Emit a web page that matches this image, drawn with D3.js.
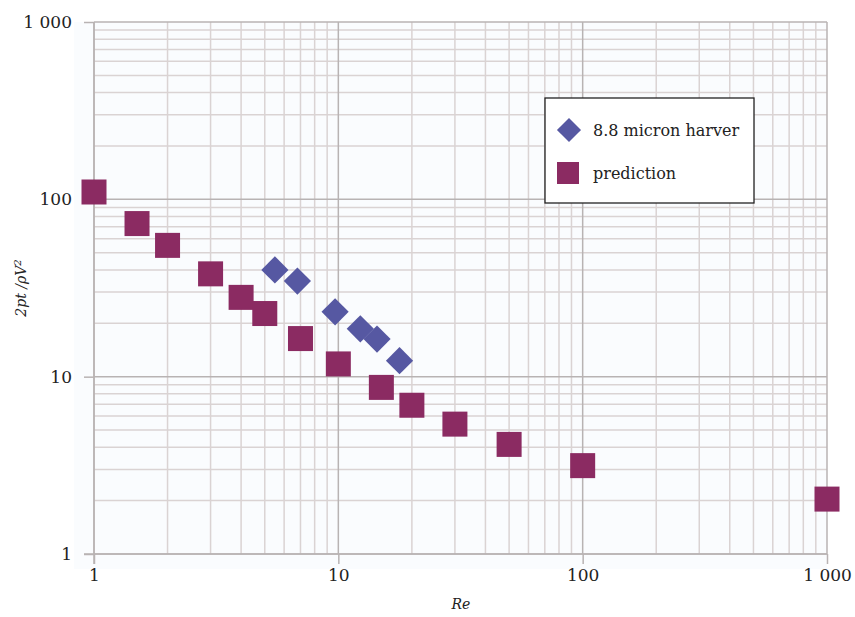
<!DOCTYPE html>
<html>
<head>
<meta charset="utf-8">
<script src="https://cdn.jsdelivr.net/npm/d3@7"></script>
<style>
  body { margin: 0; background: #fff; }
  text { font-family: "DejaVu Serif", "Liberation Serif", serif; fill: #222; }
</style>
</head>
<body>
<div id="chart"></div>
<script>
// data
const harverRe = [5.5, 6.8, 9.7, 12.3, 14.4, 17.8];
const harverVal = [40, 34.6, 23.2, 18.6, 16.3, 12.3];
const predRe = [1, 1.5, 2, 3, 4, 5, 7, 10, 15, 20, 30, 50, 100, 1000];
const predVal = [110, 73, 55, 38, 28, 22.7, 16.4, 11.8, 8.7, 6.9, 5.4, 4.15, 3.15, 2.04];
const majorTicks = [1, 10, 100, 1000];
const tickLabels = ['1', '10', '100', '1 000'];
const seriesNames = ['8.8 micron harver', 'prediction'];

const width = 855, height = 617;
const pLeft = 94, pRight = 827, pTop = 22, pBottom = 554;

const svg = d3.select('#chart').append('svg')
  .attr('width', width).attr('height', height);

const x = d3.scaleLog().domain([1, 1000]).range([pLeft, pRight]);
const y = d3.scaleLog().domain([1, 1000]).range([pBottom, pTop]);

// minor values 2..9 in each decade
const minor = [];
[1, 10, 100].forEach(d => { for (let k = 2; k <= 9; k++) minor.push(d * k); });

svg.append('rect')
  .attr('x', pLeft - 20).attr('y', pTop)
  .attr('width', pRight - pLeft + 20).attr('height', pBottom - pTop + 15)
  .attr('fill', '#fafcfe');

// minor grid
svg.append('g').selectAll('line').data(minor).enter().append('line')
  .attr('x1', d => x(d)).attr('x2', d => x(d))
  .attr('y1', pTop).attr('y2', pBottom)
  .attr('stroke', '#dad3d3').attr('stroke-width', 1.5);
svg.append('g').selectAll('line').data(minor).enter().append('line')
  .attr('y1', d => y(d)).attr('y2', d => y(d))
  .attr('x1', pLeft).attr('x2', pRight)
  .attr('stroke', '#dad3d3').attr('stroke-width', 1.5);

// major grid
svg.append('g').selectAll('line').data(majorTicks).enter().append('line')
  .attr('x1', d => x(d)).attr('x2', d => x(d))
  .attr('y1', pTop).attr('y2', pBottom)
  .attr('stroke', '#b8b3b3').attr('stroke-width', 1.5);
svg.append('g').selectAll('line').data(majorTicks).enter().append('line')
  .attr('y1', d => y(d)).attr('y2', d => y(d))
  .attr('x1', pLeft).attr('x2', pRight)
  .attr('stroke', '#b8b3b3').attr('stroke-width', 1.5);

// axes
const xAxis = svg.append('g')
  .attr('transform', `translate(0,${pBottom})`)
  .call(d3.axisBottom(x).tickValues(majorTicks).tickFormat((d, i) => tickLabels[i]).tickSize(10).tickPadding(5));
const yAxis = svg.append('g')
  .attr('transform', `translate(${pLeft},0)`)
  .call(d3.axisLeft(y).tickValues(majorTicks).tickFormat((d, i) => tickLabels[i]).tickSize(10).tickPadding(12));
[xAxis, yAxis].forEach(a => {
  a.select('.domain').remove();
  a.selectAll('line').attr('stroke', '#b8b3b3').attr('stroke-width', 1.5);
  a.selectAll('text').style('font-family', '"DejaVu Serif", serif').style('font-size', '17px').attr('fill', '#222');
});
svg.append('line').attr('x1', pLeft - 10).attr('x2', pRight)
  .attr('y1', pBottom).attr('y2', pBottom).attr('stroke', '#b8b3b3').attr('stroke-width', 1.5);
svg.append('line').attr('x1', pLeft).attr('x2', pLeft)
  .attr('y1', pTop).attr('y2', pBottom + 10).attr('stroke', '#b8b3b3').attr('stroke-width', 1.5);

// axis titles
svg.append('text').attr('x', 461).attr('y', 609)
  .attr('text-anchor', 'middle').style('font-style', 'italic').style('font-size', '14px').text('Re');
const yt = svg.append('text')
  .attr('transform', `translate(26,${(pTop + pBottom) / 2}) rotate(-90)`)
  .attr('text-anchor', 'middle').style('font-style', 'italic').style('font-size', '14px');
yt.append('tspan').text('2pt /ρV');
yt.append('tspan').attr('dy', -5).style('font-size', '10px').text('2');

// markers
const sq = 25;
svg.append('g').selectAll('rect').data(predRe).enter().append('rect')
  .attr('x', d => x(d) - sq / 2)
  .attr('y', (d, i) => y(predVal[i]) - sq / 2)
  .attr('width', sq).attr('height', sq)
  .attr('fill', '#8b2b62');

const diamond = d3.symbol().type(d3.symbolSquare).size(370);
svg.append('g').selectAll('path').data(harverRe).enter().append('path')
  .attr('d', diamond)
  .attr('transform', (d, i) => `translate(${x(d)},${y(harverVal[i])}) rotate(45)`)
  .attr('fill', '#5658a2');

// legend
const lg = svg.append('g');
lg.append('rect').attr('x', 545).attr('y', 98).attr('width', 209).attr('height', 105)
  .attr('fill', '#fff').attr('stroke', '#222').attr('stroke-width', 1.3);
lg.append('path').attr('d', d3.symbol().type(d3.symbolSquare).size(290))
  .attr('transform', 'translate(569,130) rotate(45)').attr('fill', '#5658a2');
lg.append('rect').attr('x', 557).attr('y', 162).attr('width', 22).attr('height', 22).attr('fill', '#8b2b62');
lg.selectAll('text.l').data(seriesNames).enter().append('text')
  .attr('class', 'l')
  .attr('x', 593).attr('y', (d, i) => 136 + i * 43)
  .style('font-size', '16px')
  .text(d => d);
</script>
</body>
</html>
